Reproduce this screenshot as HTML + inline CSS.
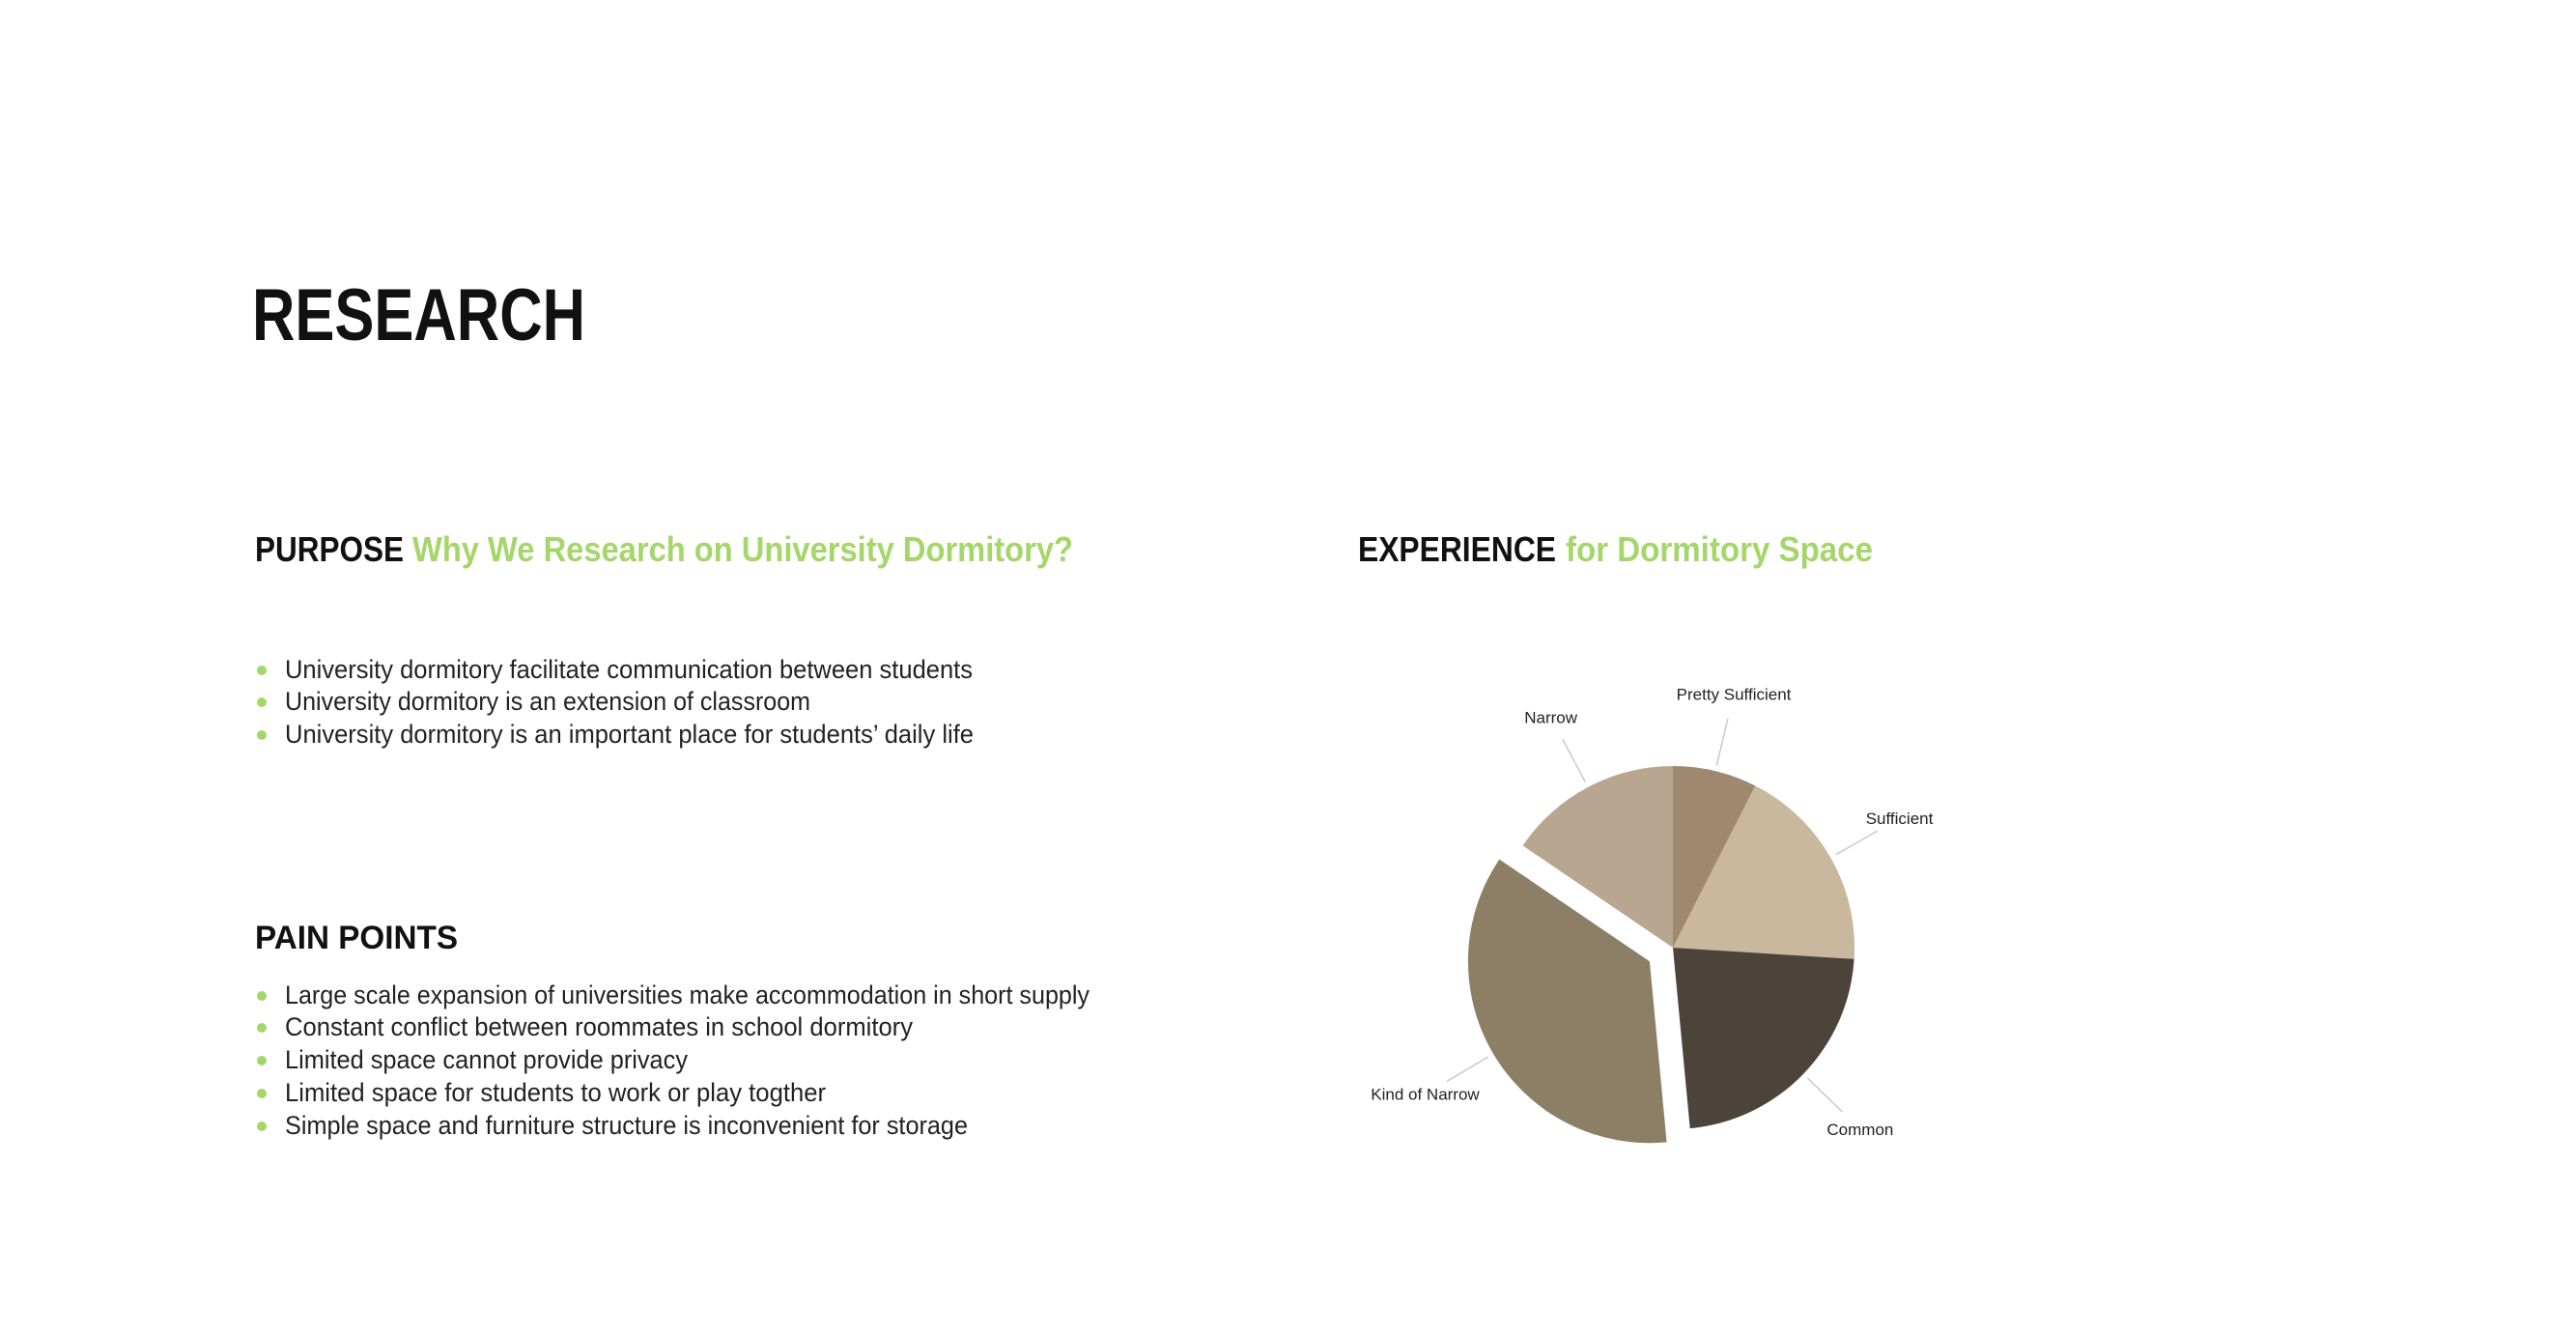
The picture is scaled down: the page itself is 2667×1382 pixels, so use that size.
<!DOCTYPE html>
<html><head><meta charset="utf-8"><style>
html,body{margin:0;padding:0;background:#fff;width:2667px;height:1382px;overflow:hidden}
svg text{font-family:"Liberation Sans",sans-serif}
</style></head><body>
<svg id="page" width="2667" height="1382" viewBox="0 0 2667 1382" xmlns="http://www.w3.org/2000/svg">
<rect width="2667" height="1382" fill="#fff"/>
<g transform="translate(-4,-3)">
<text x="265" y="355" font-size="76" font-weight="bold" fill="#111" textLength="345" lengthAdjust="spacingAndGlyphs">RESEARCH</text>

<g>
<text x="268" y="584" font-size="36" font-weight="bold" fill="#111" textLength="154" lengthAdjust="spacingAndGlyphs">PURPOSE</text>
<text x="431" y="584" font-size="36" font-weight="bold" fill="#a5d66a" textLength="684" lengthAdjust="spacingAndGlyphs">Why We Research on University Dormitory?</text>
<g font-size="27" fill="#222">
<circle cx="275" cy="697" r="5" fill="#a5d66a"/>
<text x="299" y="705" textLength="712" lengthAdjust="spacingAndGlyphs">University dormitory facilitate communication between students</text>
<circle cx="275" cy="730" r="5" fill="#a5d66a"/>
<text x="299" y="738" textLength="544" lengthAdjust="spacingAndGlyphs">University dormitory is an extension of classroom</text>
<circle cx="275" cy="764" r="5" fill="#a5d66a"/>
<text x="299" y="772" textLength="713" lengthAdjust="spacingAndGlyphs">University dormitory is an important place for students’ daily life</text>
</g>
</g>

<g>
<text x="268" y="985" font-size="34" font-weight="bold" fill="#111" textLength="210" lengthAdjust="spacingAndGlyphs">PAIN POINTS</text>
<g font-size="27" fill="#222">
<circle cx="275" cy="1034" r="5" fill="#a5d66a"/>
<text x="299" y="1042" textLength="833" lengthAdjust="spacingAndGlyphs">Large scale expansion of universities make accommodation in short supply</text>
<circle cx="275" cy="1067" r="5" fill="#a5d66a"/>
<text x="299" y="1075" textLength="650" lengthAdjust="spacingAndGlyphs">Constant conflict between roommates in school dormitory</text>
<circle cx="275" cy="1101" r="5" fill="#a5d66a"/>
<text x="299" y="1109" textLength="417" lengthAdjust="spacingAndGlyphs">Limited space cannot provide privacy</text>
<circle cx="275" cy="1135" r="5" fill="#a5d66a"/>
<text x="299" y="1143" textLength="560" lengthAdjust="spacingAndGlyphs">Limited space for students to work or play togther</text>
<circle cx="275" cy="1169" r="5" fill="#a5d66a"/>
<text x="299" y="1177" textLength="707" lengthAdjust="spacingAndGlyphs">Simple space and furniture structure is inconvenient for storage</text>
</g>
</g>

<g>
<text x="1410" y="584" font-size="36" font-weight="bold" fill="#111" textLength="205" lengthAdjust="spacingAndGlyphs">EXPERIENCE</text>
<text x="1625" y="584" font-size="36" font-weight="bold" fill="#a5d66a" textLength="318" lengthAdjust="spacingAndGlyphs">for Dormitory Space</text>
<g id="pie"></g>
</g>
</g>
</svg>
<script>
const categories = ["Pretty Sufficient", "Sufficient", "Common", "Kind of Narrow", "Narrow"];
const values = [7.5, 18.5, 22.5, 36, 15.5];
const colors = ["#a08870", "#c9b79e", "#4c433a", "#8c7f66", "#b8a690"];
const exploded = [0, 0, 0, 1, 0];

const NS = "http://www.w3.org/2000/svg";
const g = document.getElementById("pie");
const cx = 1736, cy = 984, r = 188, explode = 28;
const total = values.reduce((a, b) => a + b, 0);
function pt(a, rad, ox, oy) { return [ox + rad * Math.sin(a), oy - rad * Math.cos(a)]; }
let acc = 0;
values.forEach((v, i) => {
  const a0 = acc / total * 2 * Math.PI;
  acc += v;
  const a1 = acc / total * 2 * Math.PI;
  const mid = (a0 + a1) / 2;
  const ox = cx + (exploded[i] ? explode * Math.sin(mid) : 0);
  const oy = cy - (exploded[i] ? explode * Math.cos(mid) : 0);
  const p0 = pt(a0, r, ox, oy), p1 = pt(a1, r, ox, oy);
  const large = (a1 - a0) > Math.PI ? 1 : 0;
  const path = document.createElementNS(NS, "path");
  path.setAttribute("d", `M${ox},${oy} L${p0[0]},${p0[1]} A${r},${r} 0 ${large} 1 ${p1[0]},${p1[1]} Z`);
  path.setAttribute("fill", colors[i]);
  
  
  g.appendChild(path);
  const l0 = pt(mid, r + 6, ox, oy), l1 = pt(mid, r + 56, ox, oy);
  const line = document.createElementNS(NS, "line");
  line.setAttribute("x1", l0[0]); line.setAttribute("y1", l0[1]);
  line.setAttribute("x2", l1[0]); line.setAttribute("y2", l1[1]);
  line.setAttribute("stroke", "#c8c8c8"); line.setAttribute("stroke-width", "1.5");
  
  
  g.appendChild(line);
  const lp = pt(mid, r + 82, ox, oy);
  const t = document.createElementNS(NS, "text");
  t.setAttribute("x", lp[0]);
  t.setAttribute("y", lp[1] + 6);
  t.setAttribute("text-anchor", "middle");
  t.setAttribute("font-size", "17");
  t.setAttribute("fill", "#222");
  t.textContent = categories[i];
  
  
  g.appendChild(t);
});
</script>
</body></html>
